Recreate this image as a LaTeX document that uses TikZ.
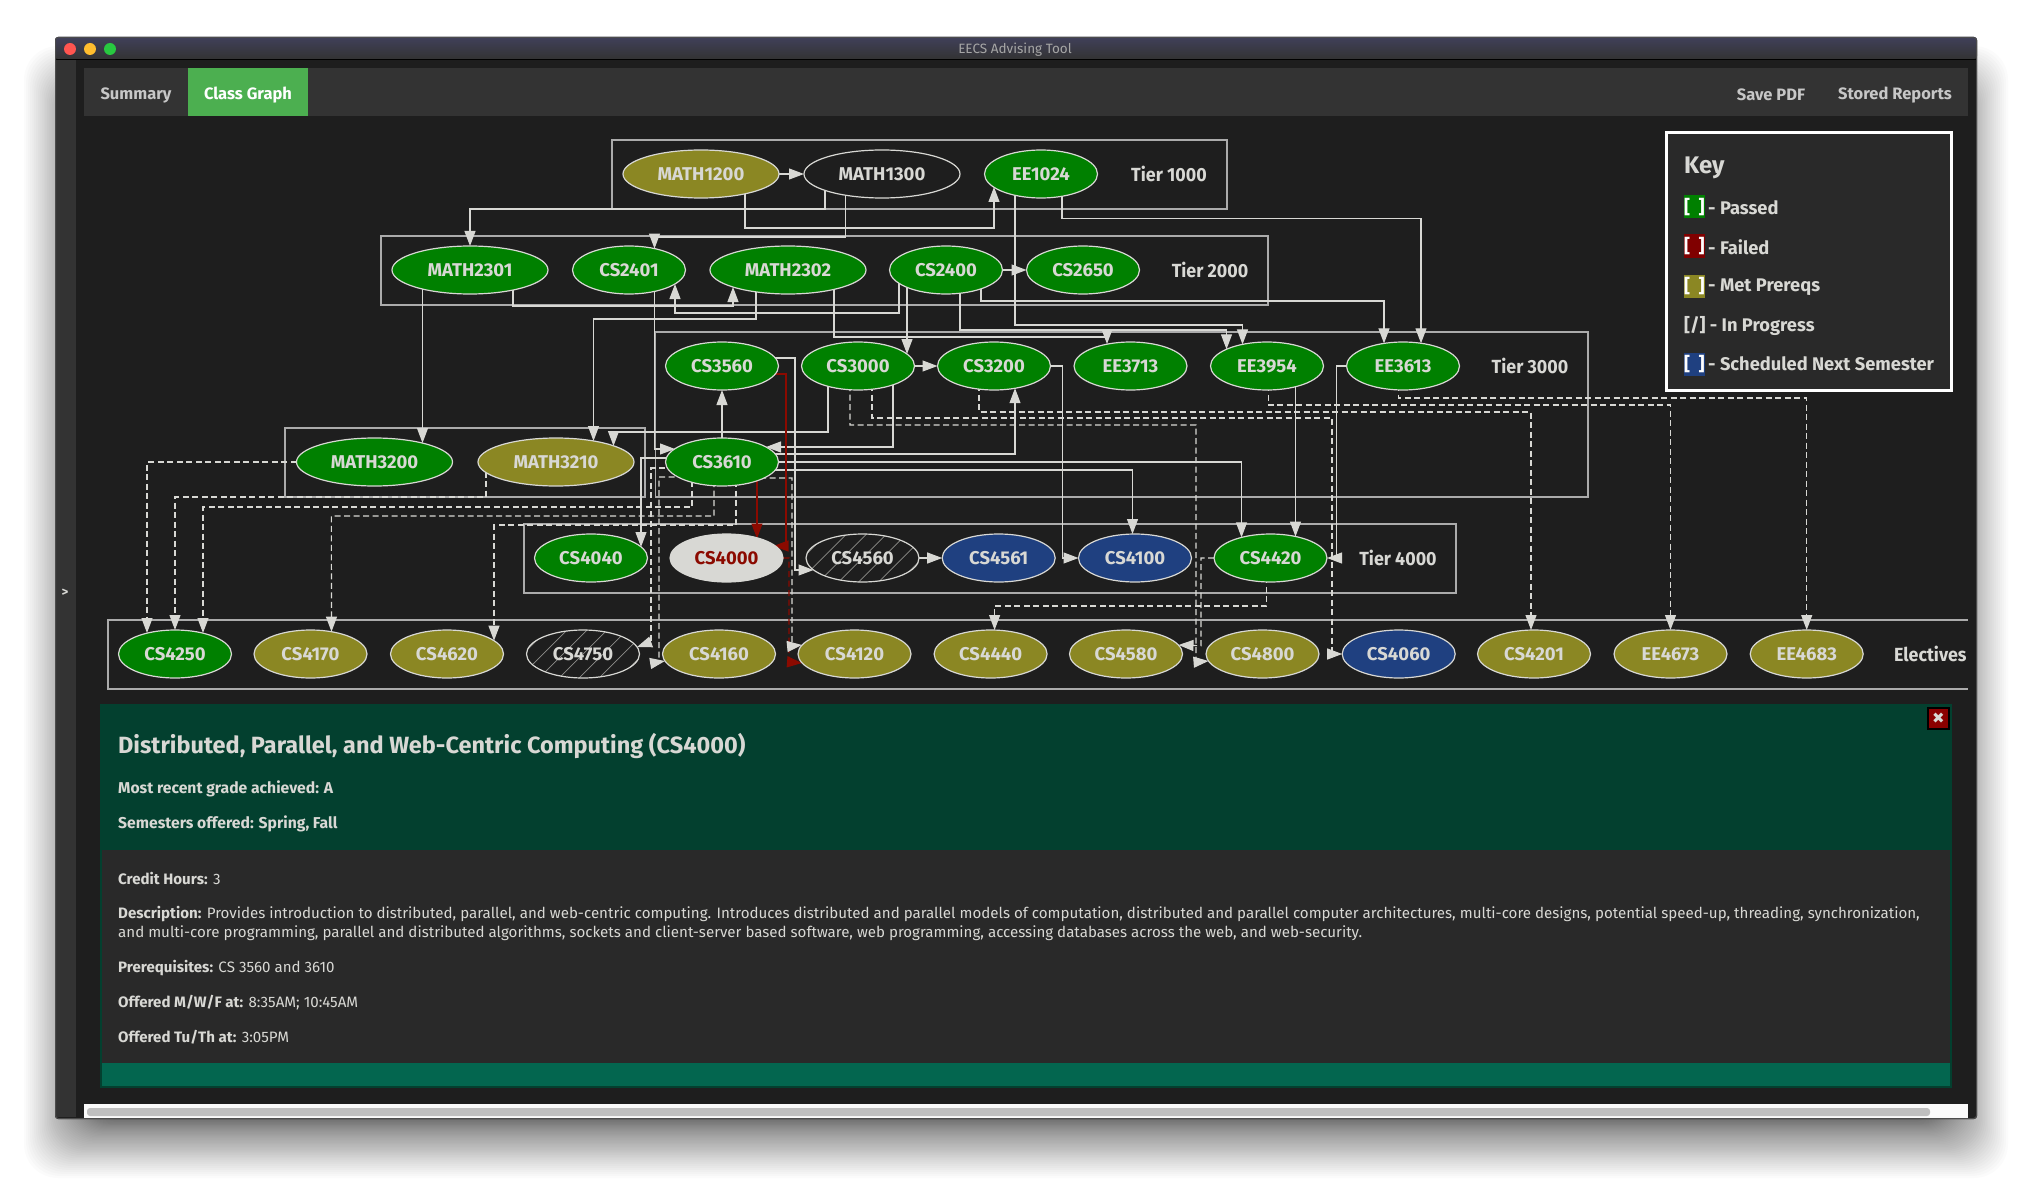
\documentclass[tikz,border=0pt]{standalone}
\usepackage{fontspec}
\setmainfont{Fira Sans}
\newfontfamily\djv{DejaVu Sans}
\newfontfamily\tierfont[FakeStretch=0.94]{Fira Sans}
\usetikzlibrary{arrows.meta,calc,shapes.geometric}
\definecolor{bgc}{HTML}{1E1E1E}
\definecolor{barc}{HTML}{333333}
\definecolor{inkc}{HTML}{D8D8D4}
\definecolor{boxc}{HTML}{ABABAB}
\definecolor{okc}{HTML}{008000}
\definecolor{olc}{HTML}{8B8723}
\definecolor{blc}{HTML}{1F4080}
\definecolor{rdc}{HTML}{8B0A00}
\definecolor{hdc}{HTML}{03402F}
\definecolor{ftc}{HTML}{03664F}
\definecolor{bdc}{HTML}{292929}
\pgfdeclarelayer{base}\pgfdeclarelayer{edges}
\pgfsetlayers{base,edges,main}
\newcommand{\nd}[3]{([shift={(#2,#3)}]#1.center)}
\tikzset{
  course/.style={ellipse,draw=inkc,line width=1.2pt,minimum width=113pt,minimum height=48pt,inner sep=0pt,outer sep=0pt,text=inkc,font=\fontsize{18.5}{19}\selectfont\bfseries},
  wide/.style={minimum width=156pt},
  passed/.style={course,fill=okc},
  met/.style={course,fill=olc},
  sched/.style={course,fill=blc},
  plain/.style={course,fill=bgc},
  hatched/.style={course,fill=bgc,path picture={
    \foreach \i in {-120,-100,...,120}{
      \draw[color=inkc!60!bgc,line width=.7pt] ($(path picture bounding box.center)+(\i*1pt-40pt,-40pt)$) -- ++(80pt,80pt);}}},
  tierbox/.style={draw=boxc,line width=1.8pt},
  e/.style={draw=inkc,line width=1.1pt,-{Triangle[length=15pt,width=11pt]}},
  ed/.style={e,dash pattern=on 6pt off 3.5pt},
  er/.style={e,draw=rdc},
  erd/.style={e,draw=rdc,dash pattern=on 6pt off 3.5pt},
  lab/.style={anchor=center,inner sep=0pt,text=inkc,font=\tierfont\fontsize{19}{19}\selectfont\bfseries},
  txt/.style={anchor=west,inner sep=0pt,text=inkc,font=\fontsize{15.1}{15}\selectfont},
  keytxt/.style={anchor=west,inner sep=0pt,text=inkc,font=\fontsize{18.3}{18.5}\selectfont\bfseries},
  swatch/.style={anchor=west,inner sep=0pt,minimum width=20pt,minimum height=23pt,text=white,font=\fontsize{18.5}{18.5}\selectfont\bfseries},
}
\begin{document}
\begin{tikzpicture}[x=1pt,y=-1pt]
\useasboundingbox (0,0) rectangle (2032,1193);
\begin{pgfonlayer}{base}
\fill[white] (0,0) rectangle (2032,1193);
\foreach \i in {0,...,59}{
  \pgfmathsetmacro{\r}{-25+63*(\i/59)*(\i/59)}
  \fill[black,opacity=.015,rounded corners=34pt] (62-\r,84-\r) rectangle (1970+\r,1140+\r);
}
% window
\fill[bgc,rounded corners=3pt] (55,37) rectangle (1977,1119);
\fill[barc] (55,59) rectangle (76,1117);
\shade[top color=black!72!white!90!blue,bottom color=black!80,rounded corners=3pt] (55,37) rectangle (1977,59);
\draw[black,line width=1pt] (55,59.5) -- (1977,59.5);
\draw[black!70,line width=1pt,rounded corners=3pt] (55.5,37.5) rectangle (1976.5,1118.5);
\fill[barc] (84,68) rectangle (1968,116);
\fill[color={rgb,255:red,76;green,175;blue,80}] (188,68) rectangle (308,116);
% detail panel
\fill[hdc] (100,704) rectangle (1952,850);
\fill[bdc] (100,850) rectangle (1952,1063);
\fill[ftc] (100,1063) rectangle (1952,1086);
\draw[hdc,line width=2pt] (101,850) -- (101,1087) -- (1951,1087) -- (1951,850);
% scrollbar
\fill[black!2] (84,1104) rectangle (1968,1118);
\fill[black!25,rounded corners=3pt] (87,1108) rectangle (1930,1116);
% tier boxes
\draw[tierbox] (612,140) rectangle (1227,209);
\draw[tierbox] (381,236) rectangle (1268,305);
\draw[tierbox] (655.5,332) rectangle (1588,497);
\draw[tierbox] (285,428) rectangle (645,497);
\draw[tierbox] (524,524) rectangle (1456,593);
\draw[tierbox] (1968,620) -- (108,620) -- (108,689) -- (1968,689);
\end{pgfonlayer}

% traffic lights
\node[circle,fill={rgb,255:red,255;green,85;blue,80},inner sep=0pt,minimum size=12pt] (tlred) at (70,49) {};
\node[circle,fill={rgb,255:red,255;green,189;blue,46},inner sep=0pt,minimum size=12pt] (tlyel) at (90,49) {};
\node[circle,fill={rgb,255:red,40;green,200;blue,64},inner sep=0pt,minimum size=12pt] (tlgrn) at (110,49) {};
\node[inner sep=0pt,text=black!35,font=\fontsize{13.5}{13.5}\selectfont] (title) at (1015,50) {EECS Advising Tool};
\node[inner sep=0pt,text=inkc,font=\fontsize{13}{13}\selectfont\bfseries] (expander) at (65,593) {>};
\node[inner sep=0pt,text=black!22,font=\fontsize{16.5}{16.5}\selectfont\bfseries] (tabsum) at (136,95) {Summary};
\node[inner sep=0pt,text=white,font=\fontsize{16.5}{16.5}\selectfont\bfseries] (tabgraph) at (248,95) {Class Graph};
\node[inner sep=0pt,text=black!22,font=\fontsize{16.5}{16.5}\selectfont\bfseries] (savepdf) at (1771,95) {Save PDF};
\node[inner sep=0pt,text=black!22,font=\fontsize{16.5}{16.5}\selectfont\bfseries] (stored) at (1895,95) {Stored Reports};

% courses
\node[met,wide] (MATH1200) at (701,174) {MATH1200};
\node[plain,wide] (MATH1300) at (882,174) {MATH1300};
\node[passed] (EE1024) at (1041,174) {EE1024};
\node[lab] (t1000) at (1169,174) {Tier 1000};

\node[passed,wide] (MATH2301) at (470,270) {MATH2301};
\node[passed] (CS2401) at (629,270) {CS2401};
\node[passed,wide] (MATH2302) at (788,270) {MATH2302};
\node[passed] (CS2400) at (946,270) {CS2400};
\node[passed] (CS2650) at (1083,270) {CS2650};
\node[lab] (t2000) at (1210,270) {Tier 2000};

\node[passed] (CS3560) at (722,366) {CS3560};
\node[passed] (CS3000) at (858,366) {CS3000};
\node[passed] (CS3200) at (994,366) {CS3200};
\node[passed] (EE3713) at (1130.5,366) {EE3713};
\node[passed] (EE3954) at (1267,366) {EE3954};
\node[passed] (EE3613) at (1403,366) {EE3613};
\node[lab] (t3000) at (1530,366) {Tier 3000};

\node[passed,wide] (MATH3200) at (374.5,462) {MATH3200};
\node[met,wide] (MATH3210) at (556,462) {MATH3210};
\node[passed] (CS3610) at (722,462) {CS3610};

\node[passed] (CS4040) at (591,558) {CS4040};
\node[course,fill=inkc,text=rdc] (CS4000) at (726.5,558) {CS4000};
\node[hatched] (CS4560) at (862.5,558) {CS4560};
\node[sched] (CS4561) at (998.7,558) {CS4561};
\node[sched] (CS4100) at (1135,558) {CS4100};
\node[passed] (CS4420) at (1270.5,558) {CS4420};
\node[lab] (t4000) at (1398,558) {Tier 4000};

\node[passed] (CS4250) at (175,654) {CS4250};
\node[met] (CS4170) at (310.5,654) {CS4170};
\node[met] (CS4620) at (447,654) {CS4620};
\node[hatched] (CS4750) at (583,654) {CS4750};
\node[met] (CS4160) at (719,654) {CS4160};
\node[met] (CS4120) at (854.5,654) {CS4120};
\node[met] (CS4440) at (990.6,654) {CS4440};
\node[met] (CS4580) at (1126,654) {CS4580};
\node[met] (CS4800) at (1262.5,654) {CS4800};
\node[sched] (CS4060) at (1398.7,654) {CS4060};
\node[met] (CS4201) at (1534,654) {CS4201};
\node[met] (EE4673) at (1670.5,654) {EE4673};
\node[met] (EE4683) at (1806.7,654) {EE4683};
\begin{scope}
\clip (1880,630) rectangle (1968,680);
\node[lab,anchor=west] (tel) at (1894,654) {Electives};
\end{scope}

\begin{pgfonlayer}{edges}
\draw[e] (MATH1200.east) -- (MATH1300.west);
\draw[e] (745,0 |- MATH1200) |- (994,228) -- \nd{EE1024}{-47}{13};
\draw[e] (845.5,0 |- MATH1300) |- (654.5,237) -- \nd{CS2401}{25.5}{-21.4};
\draw[e] (825,0 |- MATH1300) |- (470,209) -- (MATH2301.north);
\draw[e] (1015,0 |- EE1024) |- (1242.5,325) -- \nd{EE3954}{-24.5}{-21.6};
\draw[e] (1062,0 |- EE1024) |- (1421,218.7) -- \nd{EE3613}{18}{-22.7};
\draw[e] (CS2400.east) -- (CS2650.west);
\draw[e] (907,0 |- CS2400) -- \nd{CS3000}{49}{-12};
\draw[e] (899,0 |- CS2400) |- (675,313) -- \nd{CS2401}{46}{14};
\draw[e] (960,0 |- CS2400) |- (1226.5,330) -- \nd{EE3954}{-40.5}{-16.7};
\draw[e] (981,0 |- CS2400) |- (1384,301) -- \nd{EE3613}{-19}{-22.6};
\draw[e] (756,0 |- MATH2302) |- (593.5,319) -- \nd{MATH3210}{37.5}{-21};
\draw[e] (834,0 |- MATH2302) |- (1107,337) -- \nd{EE3713}{-23.5}{-22};
\draw[e] (513,0 |- MATH2301) |- (733,306) -- \nd{MATH2302}{-55}{17};
\draw[e] (422.5,0 |- MATH2301) -- \nd{MATH3200}{48}{-19};
\draw[e] (654.5,0 |- CS2401) |- \nd{CS3610}{-47}{-13};
\draw[e] (828,0 |- CS3000) |- (613.5,432) -- \nd{MATH3210}{57.5}{-16};
\draw[e] (893,0 |- CS3000) |- \nd{CS3610}{44}{-15};
\draw[e] (CS3000.east) -- (CS3200.west);
\draw[e] (CS3610.north) -- (CS3560.south);
\draw[e] (CS3610 |- 0,454) -| \nd{CS3200}{21}{22.2};
\draw[e] (CS3610.center) -| \nd{CS4420}{-29}{-20.6};
\draw[e] (CS3610 |- 0,470) -| \nd{CS4100}{-2.5}{-24};
\draw[e] (1295.5,0 |- EE3954) -- \nd{CS4420}{25}{-21.5};
\draw[e] (EE3613.west) -| (1336.6,558) -- (CS4420.east);
\draw[e] (CS3200.east) -| (1062.5,558) -- (CS4100.west);
\draw[e] (CS3560 |- 0,358) -| (795,570) -- \nd{CS4560}{-49}{12};
\draw[er] (CS3560 |- 0,374) -| (786,546) -- \nd{CS4000}{47}{-12};
\draw[er] (757,0 |- CS3610) -- \nd{CS4000}{30.5}{-19.5};
\draw[erd] (CS4000.east) -| (789,662) -- \nd{CS4120}{-52.5}{9};
\draw[e] (CS4560.east) -- (CS4561.west);
\draw[ed] (CS3610 |- 0,478) -| (792,646) -- \nd{CS4120}{-52.5}{-9};
\draw[ed] (CS3610 |- 0,477) -| (659,662) -- \nd{CS4160}{-54}{7};
\draw[ed] (CS3610 |- 0,468) -| (651,642) -- \nd{CS4750}{54}{-7};
\draw[e] (CS3610 |- 0,458) -| \nd{CS4040}{50}{-11};
\draw[ed] (MATH3200.west) -| \nd{CS4250}{-28}{-21};
\draw[ed] (486,0 |- MATH3210) |- (175,497) -- (CS4250.north);
\draw[ed] (692,0 |- CS3610) |- (203,507) -- \nd{CS4250}{28}{-21};
\draw[ed] (714,0 |- CS3610) |- (331.4,516) -- \nd{CS4170}{21}{-22.3};
\draw[ed] (736,0 |- CS3610) |- (494,525) -- \nd{CS4620}{47}{-13.3};
\draw[ed] (850,0 |- CS3000) |- (1196,425) -- (1196,662) -- \nd{CS4800}{-54}{7};
\draw[ed] (872,0 |- CS3000) |- (1332,418) |- (CS4060.west);
\draw[ed] (979,0 |- CS3200) |- (1531,412) -- \nd{CS4201}{-3}{-24};
\draw[ed] (1268.7,0 |- EE3954) |- (1670.5,405) -- (EE4673.north);
\draw[ed] (1398.7,0 |- EE3613) |- (1806.7,398) -- (EE4683.north);
\draw[ed] (CS4420.west) -| (1201,645.7) -- \nd{CS4580}{52.5}{-9};
\draw[ed] (1266.5,0 |- CS4420) |- (994.6,606) -- \nd{CS4440}{4}{-24};
\end{pgfonlayer}

% key
\node[draw=white,line width=2.5pt,fill=bdc,anchor=north west,inner sep=0pt,outer sep=0pt,minimum width=285pt,minimum height=258pt] (keybox) at (1666.5,132.5) {};
\node[keytxt,font=\fontsize{24}{24}\selectfont\bfseries] (keyhead) at (1684,168) {Key};
\node[swatch,fill=okc] (s1) at (1684,207) {[\hspace{8.5pt}]};
\node[keytxt] (k1) at (1708,208) {- Passed};
\node[swatch,fill={rgb,255:red,128;green,0;blue,0}] (s2) at (1684,246) {[\hspace{8.5pt}]};
\node[keytxt] (k2) at (1708,247) {- Failed};
\node[swatch,fill=olc] (s3) at (1684,286) {[\hspace{8.5pt}]};
\node[keytxt] (k3) at (1708,287) {- Met Prereqs};
\node[keytxt] (k4) at (1684,326) {[/] - In Progress};
\node[swatch,fill=blc] (s5) at (1684,364) {[\hspace{8.5pt}]};
\node[keytxt] (k5) at (1708,364) {- Scheduled Next Semester};

% close button
\node[draw=black,line width=2pt,fill={rgb,255:red,139;green,0;blue,0},inner sep=0pt,minimum size=21pt,text=inkc,font=\djv\fontsize{15}{15}\selectfont] (closebtn) at (1938.5,718) {✖};

% detail text
\node[txt,font=\fontsize{23.5}{24}\selectfont\bfseries] (dtitle) at (118,746) {Distributed, Parallel, and Web-Centric Computing (CS4000)};
\node[txt,font=\fontsize{15.7}{15}\selectfont\bfseries] (dgrade) at (118,789) {Most recent grade achieved: A};
\node[txt,font=\fontsize{15.7}{15}\selectfont\bfseries] (dsem) at (118,824) {Semesters offered: Spring, Fall};
\node[txt] (dcred) at (118,878) {\textbf{Credit Hours:} 3};
\node[txt] (ddesc1) at (118,914) {\textbf{Description:} Provides introduction to distributed, parallel, and web-centric computing. Introduces distributed and parallel models of computation, distributed and parallel computer architectures, multi-core designs, potential speed-up, threading, synchronization,};
\node[txt] (ddesc2) at (118,933) {and multi-core programming, parallel and distributed algorithms, sockets and client-server based software, web programming, accessing databases across the web, and web-security.};
\node[txt] (dpre) at (118,968) {\textbf{Prerequisites:} CS 3560 and 3610};
\node[txt] (dmwf) at (118,1003) {\textbf{Offered M/W/F at:} 8:35AM; 10:45AM};
\node[txt] (dtuth) at (118,1037) {\textbf{Offered Tu/Th at:} 3:05PM};
\end{tikzpicture}
\end{document}
